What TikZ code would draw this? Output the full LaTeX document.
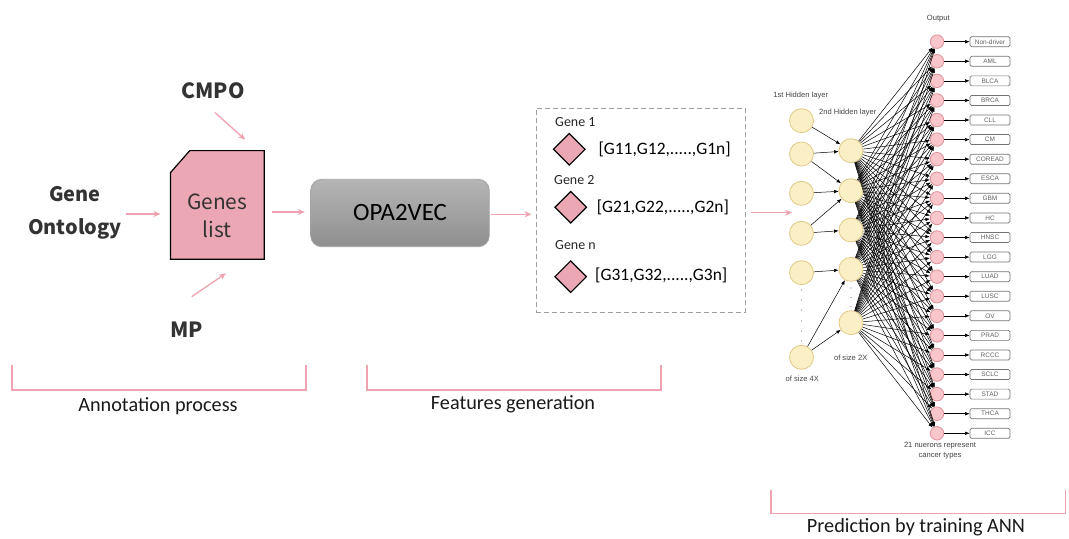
\documentclass[tikz,border=0pt]{standalone}
\usepackage{fontspec}
\setmainfont{Carlito}
\newfontfamily\krfont{Noto Sans CJK KR}
\newfontfamily\hvfont{Liberation Sans}
\usetikzlibrary{arrows.meta,shapes.geometric,calc}

\definecolor{pinkline}{HTML}{EFA2B0}
\definecolor{pinkfill}{HTML}{EBA7B4}
\definecolor{hidfill}{HTML}{FBEFC6}
\definecolor{hiddraw}{HTML}{E3C987}
\definecolor{outfill}{HTML}{F8C6CB}
\definecolor{outdraw}{HTML}{E0939A}
\definecolor{txtdark}{HTML}{333333}
\definecolor{nettxt}{HTML}{444444}

\tikzset{
  parrow/.style={draw=pinkline, line width=1.3bp, -{Stealth[length=7bp,width=6bp]}},
  bracketline/.style={draw=pinkline, line width=1.1bp},
  krbold/.style={font=\krfont\bfseries\fontsize{21}{26}\selectfont, text=txtdark},
  hid/.style={circle, fill=hidfill, draw=hiddraw, line width=0.8bp, minimum size=24bp, inner sep=0pt},
  outn/.style={circle, fill=outfill, draw=outdraw, line width=0.8bp, minimum size=13.5bp, inner sep=0pt},
  obox/.style={draw=gray!90!black, line width=0.7bp, rounded corners=1.5bp, minimum width=40bp,
    minimum height=10bp, inner sep=0pt, font=\hvfont\fontsize{6.5}{6.5}\selectfont, text=gray!75!black},
  netarrow/.style={draw=black, line width=0.5bp, -{Latex[length=4.5bp,width=3.5bp]}},
  nettext/.style={font=\hvfont\fontsize{7.6}{10}\selectfont, text=nettxt, align=center},
  gem/.style={diamond, aspect=1, minimum width=32bp, minimum height=32bp, inner sep=0pt,
    fill=pinkfill, draw=black, line width=1.2bp},
  vectxt/.style={anchor=west, font=\fontsize{17.5}{20}\selectfont, text=black},
  genetxt/.style={anchor=west, font=\fontsize{14}{16}\selectfont, text=black!85},
  captxt/.style={font=\fontsize{20.3}{24}\selectfont, text=black!90, anchor=base},
}

\begin{document}
\begin{tikzpicture}[x=1bp,y=1bp]
\useasboundingbox (0,0) rectangle (1069,539);

% ---------- annotation sources ----------
\node[krbold] (cmpo) at (213,448) {CMPO};
\node[krbold, align=center, font=\krfont\bfseries\fontsize{20}{32.7}\selectfont] (go) at (75,326) {Gene\\Ontology};
\node[krbold] (mp) at (186.7,209) {MP};

% genes list: a card with a clipped top-left corner
\node[minimum width=93.3bp, minimum height=108.3bp, inner sep=0pt] (gl) at (217.3,334) {};
\filldraw[fill=pinkfill, draw=black, line width=1.2bp]
  (gl.south west) -- ([yshift=-22bp]gl.north west) -- ([xshift=19.3bp]gl.north west)
  -- (gl.north east) -- (gl.south east) -- cycle;
\node[align=center, font=\krfont\fontsize{21}{28.4}\selectfont, text=txtdark] (gltxt)
  at ([yshift=-11bp]gl.center) {Genes\\list};

\draw[parrow] ([xshift=2bp,yshift=-10bp]cmpo.south) -- ([xshift=-19bp,yshift=11bp]gl.north east);
\draw[parrow, shorten <=1bp, shorten >=10bp] ([yshift=-1bp]go.east) -- ([yshift=-1bp]go.east -| gl.west);
\draw[parrow] ([xshift=5bp,yshift=22bp]mp.north) -- ([xshift=55.5bp,yshift=-14bp]gl.south west);

% ---------- OPA2VEC ----------
\node[minimum width=178.6bp, minimum height=67.4bp, rounded corners=11bp,
  top color=gray!58, bottom color=gray!88, draw=gray!70, line width=0.8bp,
  font=\fontsize{25}{28}\selectfont] (opa) at (400,326) {OPA2VEC};
\draw[parrow, shorten <=7.5bp, shorten >=5.5bp] ([yshift=1bp]gl.east |- opa.west) -- ([yshift=1bp]opa.west);

% ---------- feature vectors ----------
\node[minimum width=209bp, minimum height=204bp, inner sep=0pt, draw=gray!75,
  line width=1bp, dash pattern=on 5bp off 3bp] (fb) at (640.5,328.7) {};
\draw[parrow, shorten <=1bp, shorten >=4bp] ([yshift=-1.3bp]opa.east) -- ([yshift=-1.3bp]opa.east -| fb.west);

\node[genetxt] (g1) at (551.7,417.3) {Gene 1};
\node[gem] (d1) at (569.3,389.7) {};
\node[vectxt] (v1) at (595,389.7) {[G11,G12,.....,G1n]};
\node[genetxt] (g2) at (550.7,359) {Gene 2};
\node[gem] (d2) at (570.7,331.7) {};
\node[vectxt] (v2) at (593.3,332) {[G21,G22,.....,G2n]};
\node[genetxt] (gn) at (551.7,294) {Gene n};
\node[gem] (d3) at (570.7,262.3) {};
\node[vectxt] (v3) at (591.7,263.3) {[G31,G32,.....,G3n]};

\coordinate (annIn) at (792,326.3);
\draw[parrow, shorten <=5bp] (fb.east |- annIn) -- (annIn);

% ---------- neural network ----------
\foreach \y [count=\i] in {120.7,154,193.3,233.3,272.7,357.3}
  \node[hid] (ha\i) at (801.5,539-\y) {};
\foreach \y [count=\i] in {150.7,190.7,230,269.3,322.7}
  \node[hid] (hb\i) at (851,539-\y) {};
\foreach \y in {290,300,310,321,331,341}
  \fill[gray] (801.5,539-\y) circle (0.6bp);
\foreach \y in {288,297.5,306.5}
  \fill[gray] (851,539-\y) circle (0.6bp);

\foreach \lab [count=\i] in {Non-driver,AML,BLCA,BRCA,CLL,CM,COREAD,ESCA,GBM,HC,HNSC,LGG,LUAD,LUSC,OV,PRAD,RCCC,SCLC,STAD,THCA,ICC}{
  \pgfmathsetmacro\yy{539-(41.7+(\i-1)*19.58)}
  \node[outn] (o\i) at (937,\yy) {};
  \node[obox] (b\i) at (990,\yy) {\lab};
  \draw[netarrow] (o\i) -- (b\i);
}

\foreach \a/\b in {1/1,2/1,2/2,3/2,4/2,4/3,5/4,6/4,6/5}
  \draw[netarrow] (ha\a) -- (hb\b);
\foreach \j in {1,...,5}
  \foreach \i in {1,...,21}
    \draw[netarrow] (hb\j) -- (o\i);

\node[nettext] (outlbl) at (938.3,520) {Output};
\node[nettext] (h1lbl) at (800.7,443) {1st Hidden layer};
\node[nettext] (h2lbl) at (847.7,426) {2nd Hidden layer};
\node[nettext] (s4lbl) at (802.3,160) {of size 4X};
\node[nettext] (s2lbl) at (850.7,180.7) {of size 2X};
\node[nettext] (neulbl) at (940,88) {21 nuerons represent\\cancer types};

% ---------- stage brackets ----------
\draw[bracketline] (12,174) -- (12,149) -- (306,149) -- (306,174);
\draw[bracketline] (367,174) -- (367,149) -- (661,149) -- (661,174);
\draw[bracketline] (771,49) -- (771,25.5) -- (1065.5,25.5) -- (1065.5,49);
\node[captxt] (c1) at (158,127) {Annotation process};
\node[captxt] (c2) at (513,129) {Features generation};
\node[captxt] (c3) at (916,6) {Prediction by training ANN};
\end{tikzpicture}
\end{document}
